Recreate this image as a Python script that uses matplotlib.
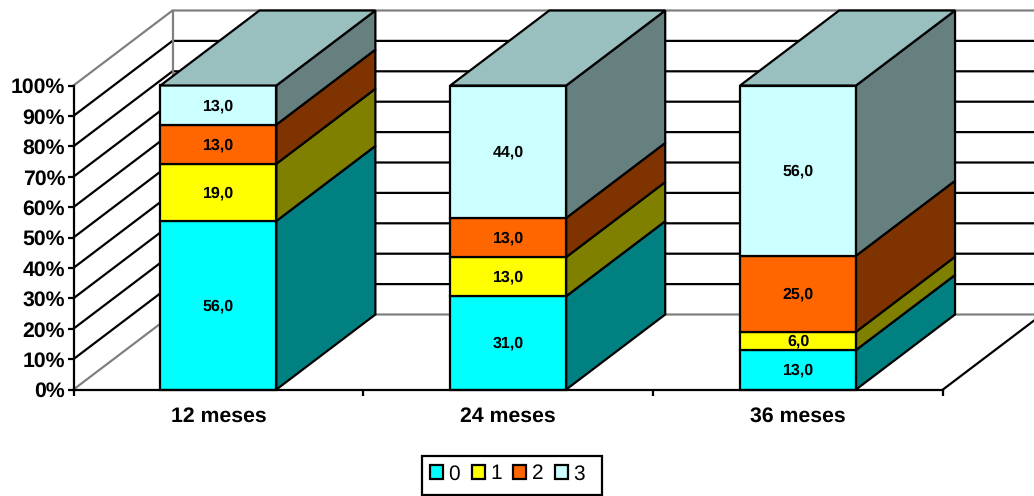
import numpy as np
import matplotlib
matplotlib.use("Agg")
import matplotlib.pyplot as plt
from matplotlib.patches import Polygon, Patch, Rectangle

plt.rcParams['font.family'] = ['Liberation Sans', 'DejaVu Sans']
plt.rcParams['text.hinting'] = 'no_hinting'

# Values as printed on the bars (the chart scales each column to 100%)
categories = ["12 meses", "24 meses", "36 meses"]
series_names = ["0", "1", "2", "3"]
values_0 = [56.0, 31.0, 13.0]
values_1 = [19.0, 13.0, 6.0]
values_2 = [13.0, 13.0, 25.0]
values_3 = [13.0, 44.0, 56.0]
y_ticks = [0, 10, 20, 30, 40, 50, 60, 70, 80, 90, 100]

front_colors = ["#00FFFF", "#FFFF00", "#FF6600", "#CCFFFF"]
side_colors = ["#008080", "#808000", "#7F3300", "#667F7F"]
top_color = "#99BFBF"
grey = "#808080"
lw = 1.6

W, H = 1034, 496
fig = plt.figure(figsize=(W / 100, H / 100), dpi=100)

# Axes box = the front plane of the 3D chart, depth is drawn outside of it
ax = fig.add_axes([73.5 / W, 1 - 389.5 / H, 869.5 / W, 304 / H])
ax.set_xlim(-0.5, 2.5)
ax.set_ylim(0, 100)
ax.set_facecolor("none")

# depth offset in data units
dx = 99 / (869.5 / 3)
dy = 75 / 3.04
bar_width = 0.4

# walls and gridlines
for t in y_ticks:
    c = grey if t in (0, 100) else "black"
    ax.plot([-0.5, -0.5 + dx, 2.5 + dx], [t, t + dy, t + dy], color=c, lw=lw,
            clip_on=False, zorder=1, solid_joinstyle="miter")
ax.plot([-0.5 + dx, -0.5 + dx], [dy, 100 + dy], color=grey, lw=lw, clip_on=False, zorder=1)
ax.plot([2.5, 2.5 + dx], [0, dy], color="black", lw=lw, clip_on=False, zorder=1)

# stacked columns
all_values = np.array([values_0, values_1, values_2, values_3])
shares = all_values / all_values.sum(axis=0) * 100
bottoms = np.zeros(len(categories))
x_pos = np.arange(len(categories))

for i, row in enumerate(shares):
    ax.bar(x_pos, row, bottom=bottoms, width=bar_width, color=front_colors[i],
           edgecolor="black", linewidth=lw, clip_on=False, zorder=3)
    for j, x in enumerate(x_pos):
        right = x + bar_width / 2
        y0, y1 = bottoms[j], bottoms[j] + row[j]
        ax.add_patch(Polygon([(right, y0), (right + dx, y0 + dy), (right + dx, y1 + dy), (right, y1)],
                             facecolor=side_colors[i], edgecolor="black", linewidth=lw,
                             clip_on=False, zorder=3, joinstyle="miter"))
        ax.annotate(f"{all_values[i, j]:.1f}".replace(".", ","), (x, (y0 + y1) / 2),
                    xytext=(0, -0.6), textcoords="offset points",
                    ha="center", va="center", fontsize=11.5, fontweight="bold", zorder=5)
    bottoms = bottoms + row

# top faces
for x in x_pos:
    left, right = x - bar_width / 2, x + bar_width / 2
    ax.add_patch(Polygon([(left, 100), (left + dx, 100 + dy), (right + dx, 100 + dy), (right, 100)],
                         facecolor=top_color, edgecolor="black", linewidth=lw,
                         clip_on=False, zorder=3, joinstyle="miter"))

# axes
for side in ["top", "right"]:
    ax.spines[side].set_visible(False)
for side in ["left", "bottom"]:
    ax.spines[side].set_linewidth(lw)
    ax.spines[side].set_zorder(4)

ax.set_yticks(y_ticks)
ax.set_yticklabels([f"{t}%" for t in y_ticks], fontsize=15.3, fontweight="bold")
ax.tick_params(axis="y", length=4.5, width=lw, pad=1.5)
ax.set_xticks([-0.5, 0.5, 1.5, 2.5])
ax.set_xticklabels([])
ax.tick_params(axis="x", which="major", length=4, width=lw)
ax.set_xticks(x_pos, minor=True)
ax.set_xticklabels(categories, minor=True, fontsize=15.3, fontweight="bold")
ax.tick_params(axis="x", which="minor", length=0, pad=12.5)

# legend: box drawn separately since it is taller than the default padding allows
fig.add_artist(Rectangle((422 / W, 1 - 495 / H), 179.5 / W, 39 / H, transform=fig.transFigure,
                         facecolor="white", edgecolor="black", linewidth=lw))
handles = [Patch(facecolor=c, edgecolor="black", linewidth=lw) for c in front_colors]
fig.legend(handles, series_names, ncol=4, loc="center", fontsize=15,
           bbox_to_anchor=(507.5 / W, 1 - 474 / H), frameon=False,
           handlelength=0.62, handleheight=0.62,
           handletextpad=0.25, columnspacing=0.57, borderpad=0, borderaxespad=0)

fig.savefig("out.png", dpi=100)
